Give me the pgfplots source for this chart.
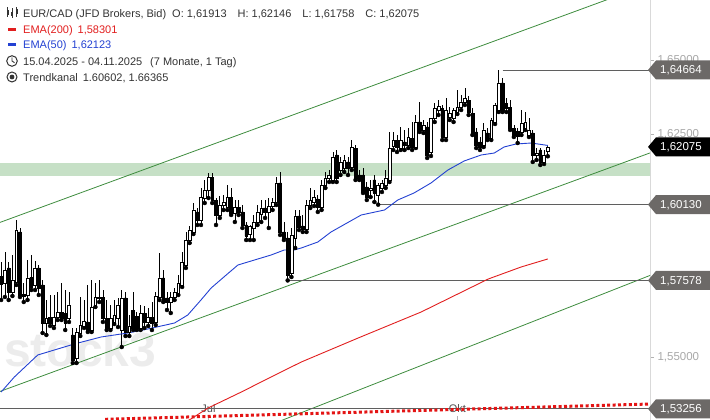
\documentclass[border=0pt]{standalone}
\usepackage{fontspec}
\setmainfont{Liberation Sans}
\usepackage{pgfplots}
\usepackage{pgfplotstable}
\pgfplotsset{compat=1.18}
\definecolor{bandgreen}{RGB}{198,224,198}
\definecolor{chgreen}{RGB}{62,140,62}
\definecolor{emablue}{RGB}{35,65,210}
\definecolor{emared}{RGB}{225,30,30}
\definecolor{dotred}{RGB}{228,20,20}
\definecolor{lvlgray}{RGB}{95,95,95}
\definecolor{boxgray}{RGB}{108,105,103}
\definecolor{txt}{RGB}{51,51,51}
\definecolor{ticktxt}{RGB}{168,168,168}

\pgfplotstableread{
i o h l c
0 1.57727 1.58199 1.56919 1.57458
1 1.57492 1.58536 1.57020 1.57929
2 1.57997 1.58199 1.56919 1.57189
3 1.57189 1.58435 1.57054 1.57593
4 1.57526 1.59613 1.57425 1.59276
5 1.59209 1.59344 1.57020 1.57088
6 1.57121 1.57492 1.56852 1.57054
7 1.57088 1.58266 1.56919 1.57660
8 1.57693 1.58435 1.57256 1.57357
9 1.57425 1.58232 1.57256 1.57997
10 1.57997 1.58098 1.57088 1.57324
11 1.57425 1.57593 1.55808 1.56145
12 1.56145 1.56919 1.55741 1.56313
13 1.56346 1.57088 1.56044 1.56145
14 1.56078 1.57088 1.55977 1.56346
15 1.56346 1.57189 1.56246 1.56515
16 1.56515 1.57492 1.56246 1.56313
17 1.56481 1.57256 1.55909 1.56145
18 1.56313 1.57189 1.56179 1.56751
19 1.55741 1.55977 1.54798 1.54899
20 1.54967 1.55977 1.54798 1.55842
21 1.55808 1.57020 1.55707 1.56078
22 1.56044 1.56919 1.55977 1.56212
23 1.56179 1.57425 1.55842 1.55909
24 1.55909 1.57593 1.55842 1.56683
25 1.56751 1.57492 1.56683 1.57020
26 1.56987 1.57593 1.56852 1.57020
27 1.57020 1.57256 1.56179 1.56313
28 1.56313 1.56919 1.55909 1.55977
29 1.55977 1.56751 1.55909 1.56313
30 1.56179 1.56919 1.56111 1.56414
31 1.56313 1.56987 1.56010 1.56751
32 1.55909 1.57256 1.55336 1.56987
33 1.56987 1.57189 1.55707 1.55842
34 1.55842 1.56414 1.55707 1.56044
35 1.56582 1.57189 1.55909 1.55977
36 1.56380 1.56515 1.55909 1.55977
37 1.55977 1.56751 1.55909 1.56481
38 1.56481 1.56717 1.55977 1.56179
39 1.56179 1.56650 1.56044 1.56346
40 1.56346 1.56852 1.55909 1.56145
41 1.56179 1.57189 1.56078 1.57054
42 1.57020 1.58502 1.56919 1.57660
43 1.57660 1.57929 1.56852 1.56919
44 1.56987 1.57189 1.56582 1.56852
45 1.56852 1.57189 1.56481 1.57020
46 1.57020 1.57324 1.56919 1.57189
47 1.57155 1.57761 1.57088 1.57492
48 1.57425 1.58536 1.57357 1.58199
49 1.58098 1.59209 1.57997 1.58939
50 1.58939 1.59411 1.58838 1.59276
51 1.59209 1.60185 1.59141 1.59950
52 1.59883 1.60017 1.59445 1.59613
53 1.59613 1.60691 1.59445 1.60387
54 1.60353 1.60960 1.60185 1.60623
55 1.60623 1.61195 1.60353 1.61060
56 1.61060 1.61195 1.60185 1.60286
57 1.60286 1.60353 1.59445 1.59782
58 1.59782 1.60421 1.59681 1.60118
59 1.60118 1.60455 1.59950 1.60219
60 1.60050 1.60792 1.59950 1.60387
61 1.60387 1.60691 1.59782 1.59849
62 1.59849 1.60286 1.59546 1.60050
63 1.60050 1.60286 1.59782 1.59883
64 1.59883 1.60118 1.59344 1.59445
65 1.59445 1.59546 1.58939 1.59074
66 1.59141 1.59445 1.58939 1.59411
67 1.59344 1.59782 1.58939 1.59546
68 1.59546 1.60118 1.59445 1.59883
69 1.59815 1.60286 1.59546 1.60017
70 1.60017 1.60286 1.59681 1.59883
71 1.59883 1.60353 1.59344 1.60084
72 1.60084 1.60353 1.59950 1.60219
73 1.60219 1.61060 1.60118 1.60859
74 1.60859 1.61229 1.59108 1.59209
75 1.59209 1.59546 1.58939 1.59007
76 1.59007 1.59209 1.57578 1.57761
77 1.57828 1.59344 1.57693 1.59108
78 1.59007 1.59950 1.58670 1.59748
79 1.59748 1.59950 1.59276 1.59377
80 1.59411 1.59782 1.59209 1.59310
81 1.59310 1.60286 1.59209 1.60118
82 1.60118 1.60691 1.60017 1.60286
83 1.60219 1.60623 1.60084 1.60387
84 1.60320 1.60455 1.59883 1.60050
85 1.60050 1.60960 1.59950 1.60792
86 1.60792 1.61229 1.60691 1.61027
87 1.61027 1.61296 1.60893 1.61128
88 1.60960 1.61903 1.60893 1.61734
89 1.61802 1.61970 1.60893 1.61027
90 1.61296 1.61734 1.61128 1.61566
91 1.61364 1.61802 1.61229 1.61633
92 1.61566 1.61734 1.61128 1.61364
93 1.61397 1.62306 1.61296 1.62070
94 1.62036 1.62138 1.60960 1.61027
95 1.61128 1.61296 1.60960 1.61027
96 1.61128 1.61364 1.60522 1.60556
97 1.60724 1.60893 1.60286 1.60387
98 1.60623 1.60960 1.60387 1.60691
99 1.60960 1.61128 1.60219 1.60522
100 1.60455 1.60859 1.60130 1.60792
101 1.60691 1.60960 1.60556 1.60859
102 1.60792 1.61296 1.60691 1.61027
103 1.60960 1.62576 1.60893 1.62036
104 1.62104 1.62576 1.61970 1.62306
105 1.62306 1.62475 1.61903 1.62070
106 1.62036 1.62744 1.61970 1.62306
107 1.62239 1.62643 1.61970 1.62138
108 1.62138 1.62710 1.62036 1.62407
109 1.62373 1.62913 1.61970 1.62070
110 1.62070 1.63148 1.62036 1.62913
111 1.62913 1.63586 1.62576 1.62643
112 1.62643 1.62980 1.62542 1.62812
113 1.62744 1.62913 1.61701 1.61802
114 1.61903 1.63047 1.61768 1.63047
115 1.63047 1.63552 1.62913 1.63383
116 1.63316 1.63653 1.63148 1.63451
117 1.63383 1.63485 1.62306 1.62407
118 1.62407 1.63720 1.62306 1.63316
119 1.63080 1.63417 1.62980 1.63215
120 1.63047 1.63383 1.62913 1.63316
121 1.63249 1.63990 1.63181 1.63417
122 1.63417 1.63822 1.63316 1.63586
123 1.63586 1.64057 1.63485 1.63720
124 1.63653 1.63788 1.63148 1.63249
125 1.63215 1.63383 1.62475 1.62542
126 1.62576 1.62710 1.62036 1.62138
127 1.62239 1.62407 1.61970 1.62070
128 1.62138 1.62879 1.62070 1.62643
129 1.62542 1.62710 1.62306 1.62373
130 1.62373 1.63047 1.62306 1.62980
131 1.62913 1.63552 1.62845 1.63485
132 1.63316 1.64664 1.63249 1.64226
133 1.64226 1.64394 1.63249 1.63316
134 1.63552 1.63720 1.63249 1.63383
135 1.63417 1.63653 1.62643 1.62710
136 1.62710 1.62812 1.62407 1.62475
137 1.62609 1.62710 1.62205 1.62441
138 1.62576 1.63316 1.62475 1.62879
139 1.62710 1.63249 1.62643 1.62913
140 1.62475 1.63047 1.62407 1.62643
141 1.62542 1.62643 1.61566 1.61802
142 1.61802 1.62036 1.61633 1.61869
143 1.61970 1.62036 1.61465 1.61566
144 1.61566 1.61970 1.61498 1.61802
145 1.61913 1.62146 1.61758 1.62075
}\candles

\pgfplotstableread{
x y
0 1.53821
3.5 1.54326
9.7 1.55067
19.4 1.55438
26.5 1.55673
33.6 1.55808
38.9 1.55943
46 1.56145
49.5 1.56414
53 1.56919
55.7 1.57323
59.7 1.57761
62.8 1.58097
67.2 1.58266
71.6 1.58434
75.1 1.58603
77.7 1.58603
79.6 1.58670
84 1.58872
87.5 1.59209
95.5 1.59781
101.7 1.59950
105.2 1.60286
109.5 1.60522
114 1.60858
118.5 1.61296
122.8 1.61599
127.3 1.61801
130.8 1.61868
133.4 1.62071
136.6 1.62172
140.6 1.62205
145 1.62123
}\emafifty

\pgfplotstableread{
x y
47.7 1.52744
49.9 1.52879
54.9 1.53283
63.7 1.53821
71.6 1.54326
79.6 1.54831
94.7 1.55640
111.4 1.56515
129.2 1.57626
137.9 1.58030
145 1.58301
}\ematwohundred

\newcommand{\pricebox}[3]{%
  \fill[#2] (648pt,#1pt) -- (656pt,#1pt+9.5pt) -- (710pt,#1pt+9.5pt) -- (710pt,#1pt-9.5pt) -- (656pt,#1pt-9.5pt) -- cycle;
  \node[anchor=base west, inner sep=0pt, text=white, font=\fontsize{11.5}{13}\selectfont] at (660pt,#1pt-4pt) {#3};
}

\pgfplotsset{chartframe/.style={
  at={(0pt,0pt)}, anchor=south west,
  scale only axis, width=650pt, height=420pt,
  xmin=-0.3, xmax=172.1, ymin=1.528788, ymax=1.670202}}

\begin{document}
\begin{tikzpicture}
\useasboundingbox (0pt,0pt) rectangle (710pt,420pt);
% watermark
\node[anchor=base west, inner sep=0pt, text=gray!15, font=\fontsize{48}{48}\selectfont\bfseries] at (4pt,53pt) {stock3};

\begin{axis}[
  chartframe,
  axis x line=bottom, axis y line=right,
  axis line style={-},
  x axis line style={draw=none},
  y axis line style={draw=gray!30, line width=0.8pt},
  xtick={55,121}, xticklabels={Jul,Okt},
  xtick align=inside,
  ytick={1.55,1.625,1.65},
  ytick align=outside,
  major tick length=4pt,
  tick style={draw=gray!60, line width=0.6pt},
  xticklabel style={anchor=base, yshift=7pt, text=txt!85, font=\fontsize{11}{13}\selectfont},
  yticklabel style={anchor=west, text=ticktxt, font=\fontsize{11.5}{13}\selectfont,
    /pgf/number format/.cd, fixed, fixed zerofill, precision=5, use comma, 1000 sep={}, assume math mode=true},
]
% support / resistance band
\addplot[forget plot, draw=none, fill=bandgreen] coordinates {(-1,1.61094) (175,1.61094) (175,1.61532) (-1,1.61532)} -- cycle;
% trend channel
\addplot[forget plot, chgreen, line width=0.8pt] coordinates {(-1,1.59499) (175,1.67696)};
\addplot[forget plot, chgreen, line width=0.8pt] coordinates {(-1,1.53808) (175,1.62006)};
\addplot[forget plot, chgreen, line width=0.8pt] coordinates {(70,1.52644) (175,1.57891)};
% horizontal levels
\addplot[forget plot, lvlgray, line width=0.8pt] coordinates {(133,1.64664) (175,1.64664)};
\addplot[forget plot, lvlgray, line width=0.8pt] coordinates {(100.3,1.60130) (175,1.60130)};
\addplot[forget plot, lvlgray, line width=0.8pt] coordinates {(75.6,1.57578) (175,1.57578)};
\addplot[forget plot, lvlgray, line width=0.8pt] coordinates {(-1,1.53256) (175,1.53256)};
% long-term dotted average
\addplot[forget plot, dotred, line width=3pt, dash pattern=on 3pt off 2.4pt] coordinates {(27.6,1.52902) (172.4,1.53418)};
% EMA200
\addplot[forget plot, emared, line width=0.9pt] table[x=x,y=y] {\ematwohundred};
% candles: wicks
\addplot[forget plot, only marks, mark=none,
  error bars/.cd, y dir=plus, y explicit, error mark=none,
  error bar style={draw=black, line width=0.75pt}]
  table[x=i, y=l, y error expr={\thisrow{h}-\thisrow{l}}] {\candles};
% EMA50
\addplot[forget plot, emablue, line width=0.9pt] table[x=x,y=y] {\emafifty};
\end{axis}

% candle bodies: stacked bars (invisible base, then body)
\begin{axis}[chartframe, hide axis, ybar stacked, bar width=2.8pt]
\addplot[draw=none, fill=none] table[x=i, y expr={min(\thisrow{o},\thisrow{c})}] {\candles};
\addplot[draw=black, fill=white, line width=0.6pt] table[x=i, y expr={max(\thisrow{c}-\thisrow{o},0)}] {\candles};
\addplot[draw=black, fill=black, line width=0.6pt] table[x=i, y expr={max(\thisrow{o}-\thisrow{c},0)}] {\candles};
\end{axis}

% price boxes
\pricebox{350.0}{boxgray}{1,64664}
\pricebox{273.1}{black}{1,62075}
\pricebox{215.4}{boxgray}{1,60130}
\pricebox{139.6}{boxgray}{1,57578}
\pricebox{11.2}{boxgray}{1,53256}

% header
\begin{scope}[font=\fontsize{11}{13}\selectfont]
\draw[txt, line width=0.7pt] (7.5pt,403pt) -- (7.5pt,413pt);
\fill[txt] (6.5pt,405pt) rectangle (8.5pt,410pt);
\draw[txt, line width=0.7pt] (12pt,402pt) -- (12pt,412pt);
\fill[txt] (11pt,404pt) rectangle (13pt,408pt);
\draw[txt, line width=0.7pt] (16.5pt,403pt) -- (16.5pt,413pt);
\fill[txt] (15.5pt,406pt) rectangle (17.5pt,411pt);
\node[anchor=base west, inner sep=0pt, text=txt] at (23pt,402.5pt) {EUR/CAD (JFD Brokers, Bid)\hspace{6pt}O: 1,61913\hspace{11pt}H: 1,62146\hspace{11pt}L: 1,61758\hspace{11pt}C: 1,62075};
\fill[emared] (8pt,389pt) rectangle (16pt,392pt);
\node[anchor=base west, inner sep=0pt, text=emared] at (23pt,386.5pt) {EMA(200)\hspace{5pt}1,58301};
\fill[emablue] (8pt,374pt) rectangle (16pt,377pt);
\node[anchor=base west, inner sep=0pt, text=emablue] at (23pt,371.5pt) {EMA(50)\hspace{5pt}1,62123};
\draw[txt, line width=1pt] (12pt,359pt) circle (5.3pt);
\draw[txt, line width=0.9pt] (12pt,362.5pt) -- (12pt,359pt) -- (14.5pt,357.3pt);
\node[anchor=base west, inner sep=0pt, text=txt] at (23pt,354.5pt) {15.04.2025 - 04.11.2025\hspace{8pt}(7 Monate, 1 Tag)};
\draw[txt, line width=1pt] (12pt,343pt) circle (5pt);
\fill[txt] (12pt,343pt) circle (2.4pt);
\node[anchor=base west, inner sep=0pt, text=txt] at (23pt,338.5pt) {Trendkanal\hspace{5pt}1.60602, 1.66365};
\end{scope}
\end{tikzpicture}
\end{document}
